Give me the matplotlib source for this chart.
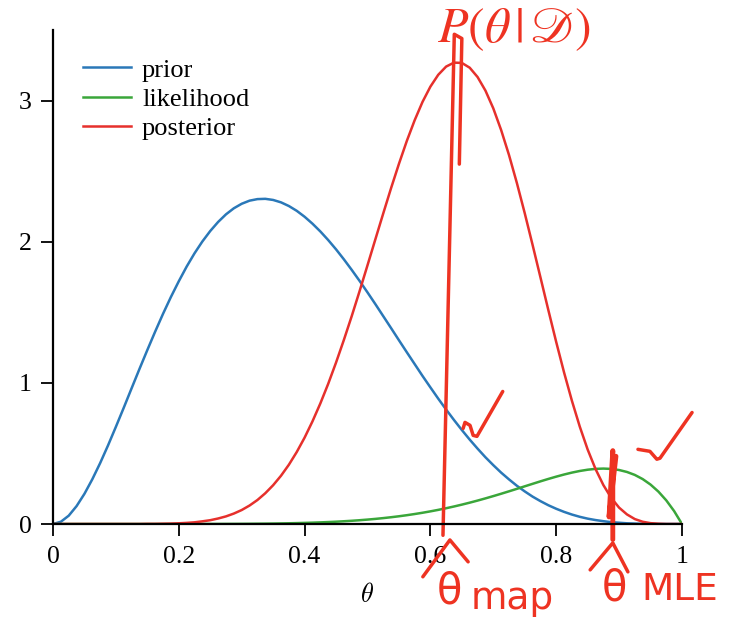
import matplotlib
matplotlib.use("Agg")
import matplotlib.pyplot as plt

theta = [0.0, 0.0125, 0.025, 0.0375, 0.05, 0.0625, 0.075, 0.0875, 0.1, 0.1125,
         0.125, 0.1375, 0.15, 0.1625, 0.175, 0.1875, 0.2, 0.2125, 0.225, 0.2375,
         0.25, 0.2625, 0.275, 0.2875, 0.3, 0.3125, 0.325, 0.3375, 0.35, 0.3625,
         0.375, 0.3875, 0.4, 0.4125, 0.425, 0.4375, 0.45, 0.4625, 0.475, 0.4875,
         0.5, 0.5125, 0.525, 0.5375, 0.55, 0.5625, 0.575, 0.5875, 0.6, 0.6125,
         0.625, 0.6375, 0.65, 0.6625, 0.675, 0.6875, 0.7, 0.7125, 0.725, 0.7375,
         0.75, 0.7625, 0.775, 0.7875, 0.8, 0.8125, 0.825, 0.8375, 0.85, 0.8625,
         0.875, 0.8875, 0.9, 0.9125, 0.925, 0.9375, 0.95, 0.9625, 0.975, 0.9875,
         1.0]

prior = [0.0, 0.016, 0.059, 0.127, 0.214, 0.317, 0.432, 0.557, 0.689, 0.824,
         0.962, 1.099, 1.233, 1.364, 1.490, 1.609, 1.720, 1.824, 1.918, 2.002,
         2.076, 2.140, 2.194, 2.237, 2.269, 2.291, 2.302, 2.304, 2.296, 2.279,
         2.253, 2.219, 2.177, 2.128, 2.073, 2.012, 1.946, 1.875, 1.800, 1.722,
         1.641, 1.558, 1.473, 1.388, 1.302, 1.217, 1.133, 1.049, 0.968, 0.888,
         0.811, 0.737, 0.666, 0.598, 0.534, 0.473, 0.417, 0.364, 0.316, 0.271,
         0.231, 0.194, 0.162, 0.133, 0.108, 0.086, 0.067, 0.051, 0.038, 0.028,
         0.020, 0.013, 0.009, 0.005, 0.003, 0.001, 0.001, 0.000, 0.000, 0.000,
         0.0]

likelihood = [0.0, 0.0, 0.0, 0.0, 0.0, 0.0, 0.0, 0.0, 0.0, 0.0,
              0.0, 0.0, 0.0, 0.0, 0.0, 0.0001, 0.0001, 0.0001, 0.0002, 0.0003,
              0.0004, 0.0005, 0.0007, 0.0009, 0.0012, 0.0016, 0.0021, 0.0026, 0.0033, 0.0042,
              0.0052, 0.0064, 0.0079, 0.0096, 0.0115, 0.0138, 0.0164, 0.0195, 0.0229, 0.0268,
              0.0313, 0.0362, 0.0418, 0.0480, 0.0548, 0.0624, 0.0707, 0.0797, 0.0896, 0.1002,
              0.1118, 0.1241, 0.1373, 0.1512, 0.1660, 0.1815, 0.1977, 0.2144, 0.2316, 0.2492,
              0.2670, 0.2847, 0.3023, 0.3193, 0.3355, 0.3506, 0.3642, 0.3757, 0.3847, 0.3906,
              0.3927, 0.3903, 0.3826, 0.3687, 0.3477, 0.3183, 0.2793, 0.2296, 0.1675, 0.0916,
              0.0]

posterior = [0.0, 0.0, 0.0, 0.0, 0.0, 0.0, 0.0, 0.0, 0.0, 0.0,
             0.0, 0.0, 0.001, 0.001, 0.002, 0.003, 0.005, 0.008, 0.012, 0.019,
             0.027, 0.039, 0.054, 0.074, 0.099, 0.131, 0.170, 0.218, 0.275, 0.342,
             0.420, 0.510, 0.612, 0.727, 0.854, 0.993, 1.144, 1.305, 1.474, 1.651,
             1.833, 2.017, 2.200, 2.380, 2.552, 2.714, 2.861, 2.991, 3.099, 3.183,
             3.241, 3.269, 3.267, 3.233, 3.167, 3.071, 2.945, 2.791, 2.614, 2.416,
             2.202, 1.977, 1.747, 1.516, 1.290, 1.074, 0.873, 0.690, 0.528, 0.390,
             0.276, 0.185, 0.116, 0.068, 0.035, 0.016, 0.006, 0.002, 0.000, 0.000,
             0.0]

series_names = ["prior", "likelihood", "posterior"]
series_colors = ["#2a78b8", "#3aa63a", "#e6302c"]
xticks = [0, 0.2, 0.4, 0.6, 0.8, 1]
xtick_labels = ["0", "0.2", "0.4", "0.6", "0.8", "1"]
yticks = [0, 1, 2, 3]
ytick_labels = ["0", "1", "2", "3"]

theta_map = 0.62
theta_mle = 0.89
ink = "#ee3322"

plt.rcParams["font.family"] = ["Liberation Serif", "DejaVu Serif"]

fig = plt.figure(figsize=(7.55, 6.23), dpi=100)
ax = fig.add_axes([0.0702, 0.1589, 0.8331, 0.7929])

for vals, name, col in zip([prior, likelihood, posterior], series_names, series_colors):
    ax.plot(theta, vals, color=col, lw=1.8, label=name, solid_joinstyle="round")

ax.set_xlim(0, 1)
ax.set_ylim(0, 3.5)
ax.set_xticks(xticks)
ax.set_xticklabels(xtick_labels)
ax.set_yticks(yticks)
ax.set_yticklabels(ytick_labels)
for s in ["top", "right"]:
    ax.spines[s].set_visible(False)
for s in ["left", "bottom"]:
    ax.spines[s].set_linewidth(1.6)
ax.tick_params(axis="both", direction="out", length=8.5, width=1.3, labelsize=18.5, pad=7)
ax.set_xlabel(r"$\theta$", fontsize=19, labelpad=11, math_fontfamily="cm")

leg = ax.legend(loc="upper left", bbox_to_anchor=(0.047, 0.943), frameon=False,
                fontsize=19, handlelength=1.85, handletextpad=0.4, labelspacing=0.22,
                borderpad=0, borderaxespad=0)

# handwritten annotations
ax.text(0.733, 3.50, r"$P(\theta\,|\,\mathscr{D})$", fontsize=36, color=ink,
        ha="center", va="center", math_fontfamily="stix", clip_on=False)
ax.plot([theta_map, theta_map + 0.018, theta_map + 0.03, theta_map + 0.026],
        [-0.08, 3.47, 3.44, 2.55], color=ink, lw=2.5, clip_on=False,
        solid_capstyle="round", solid_joinstyle="round")
ax.plot([theta_mle, theta_mle, theta_mle - 0.006, theta_mle + 0.005],
        [-0.11, 0.52, 0.05, 0.48], color=ink, lw=3.5, clip_on=False,
        solid_capstyle="round")
ax.plot([0.652, 0.655, 0.663, 0.668, 0.674, 0.715],
        [0.677, 0.720, 0.699, 0.628, 0.621, 0.939], color=ink, lw=2.5,
        clip_on=False, solid_capstyle="round", solid_joinstyle="round")
ax.plot([0.930, 0.949, 0.960, 0.965, 1.016],
        [0.529, 0.515, 0.459, 0.466, 0.790], color=ink, lw=2.5,
        clip_on=False, solid_capstyle="round", solid_joinstyle="round")
ax.plot([0.588, 0.631, 0.660], [-0.374, -0.113, -0.268], color=ink, lw=2.5,
        clip_on=False, solid_capstyle="round", solid_joinstyle="round")
ax.plot([0.854, 0.890, 0.914], [-0.325, -0.134, -0.339], color=ink, lw=2.5,
        clip_on=False, solid_capstyle="round", solid_joinstyle="round")
ax.text(0.63, -0.48, "θ", fontsize=30, color=ink, ha="center", va="center",
        family="DejaVu Sans", clip_on=False)
ax.text(0.664, -0.53, "map", fontsize=27, color=ink, ha="left", va="center",
        family="DejaVu Sans", clip_on=False)
ax.text(0.893, -0.46, "θ", fontsize=30, color=ink, ha="center", va="center",
        family="DejaVu Sans", clip_on=False)
ax.text(0.935, -0.47, "MLE", fontsize=27, color=ink, ha="left", va="center",
        family="DejaVu Sans", clip_on=False)

fig.savefig("out.png", dpi=100)
